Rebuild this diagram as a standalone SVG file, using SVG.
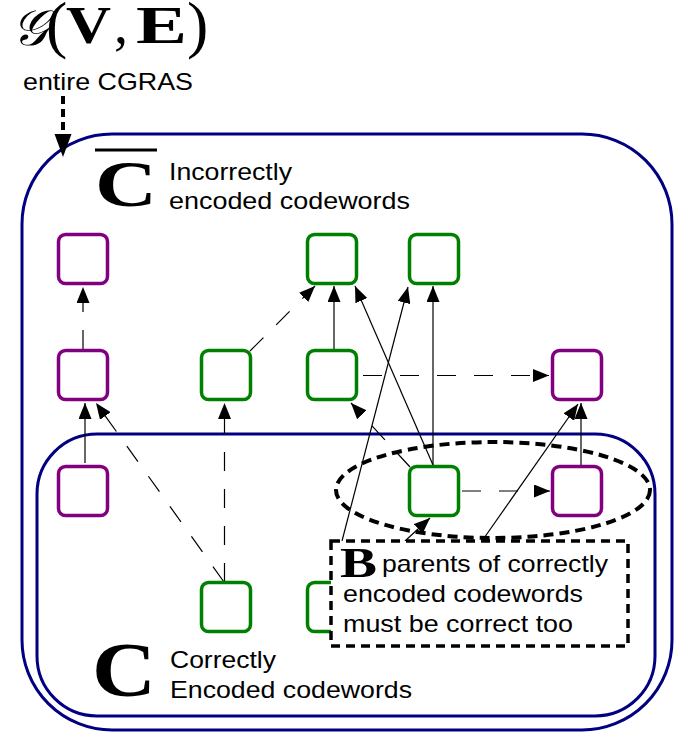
<svg xmlns="http://www.w3.org/2000/svg" width="690" height="739" viewBox="0 0 690 739">
<defs>
<style>
.sans{font-family:"Liberation Sans",Arial,sans-serif;font-size:24px;fill:#000}
.serifb{font-family:"Liberation Serif","Times New Roman",serif;font-weight:bold;fill:#000}
.serif{font-family:"Liberation Serif","Times New Roman",serif;fill:#000}
.set{fill:none;stroke:#000080;stroke-width:3}
.pn{fill:#fff;stroke:#800080;stroke-width:3.5}
.gn{fill:#fff;stroke:#008000;stroke-width:3.5}
.e{fill:none;stroke:#000;stroke-width:1.2}
.d{stroke-dasharray:19 18}
</style>
<marker id="ah" markerUnits="userSpaceOnUse" markerWidth="17" markerHeight="13" refX="16" refY="6.5" orient="auto">
<path d="M0,0 L16,6.5 L0,13 z" fill="#000"/>
</marker>
</defs>
<rect width="690" height="739" fill="#fff"/>

<g id="title">
<text x="12" y="45" font-family="'DejaVu Serif','DejaVu Sans',serif" font-size="50" font-style="italic">𝒢</text>
<text class="serif" x="46" y="46" font-size="64">(</text>
<text class="serifb" x="66" y="43" font-size="53" textLength="45" lengthAdjust="spacingAndGlyphs">V</text>
<text class="serif" x="114" y="43" font-size="56">,</text>
<text class="serifb" x="136" y="43" font-size="53" textLength="51" lengthAdjust="spacingAndGlyphs">E</text>
<text class="serif" x="187" y="46" font-size="64">)</text>
<text class="sans" x="23" y="90" textLength="170" lengthAdjust="spacingAndGlyphs">entire CGRAS</text>
</g>

<g id="setCbar">
<rect class="set" x="22" y="134" width="650" height="596" rx="90" ry="90"/>
<line x1="95" y1="150" x2="157" y2="150" stroke="#000" stroke-width="3"/>
<text class="serifb" x="95" y="206" font-size="66" textLength="62" lengthAdjust="spacingAndGlyphs">C</text>
<text class="sans" x="169" y="180" textLength="123" lengthAdjust="spacingAndGlyphs">Incorrectly</text>
<text class="sans" x="169" y="209" textLength="241" lengthAdjust="spacingAndGlyphs">encoded codewords</text>
</g>

<g id="setC">
<rect class="set" x="37" y="434" width="618" height="282" rx="60" ry="60"/>
<text class="serifb" x="92" y="696" font-size="78" textLength="64" lengthAdjust="spacingAndGlyphs">C</text>
<text class="sans" x="170" y="668" textLength="106" lengthAdjust="spacingAndGlyphs">Correctly</text>
<text class="sans" x="170" y="698" textLength="242" lengthAdjust="spacingAndGlyphs">Encoded codewords</text>
</g>

<g id="connectors">
<line x1="63" y1="96" x2="63" y2="137" stroke="#000" stroke-width="4" stroke-dasharray="8 5"/>
<path d="M54.5,134 L71.5,134 L63,157 z" fill="#000"/>
<line class="e d" x1="83" y1="349" x2="83" y2="287" marker-end="url(#ah)"/>
<line class="e" x1="85" y1="463" x2="85" y2="403" marker-end="url(#ah)"/>
<line class="e d" x1="224" y1="582" x2="96" y2="403" marker-end="url(#ah)"/>
<line class="e d" x1="224.5" y1="582" x2="224.5" y2="403" marker-end="url(#ah)"/>
<line class="e d" x1="250" y1="351" x2="315" y2="286" marker-end="url(#ah)"/>
<line class="e" x1="334" y1="349" x2="334" y2="286" marker-end="url(#ah)"/>
<line class="e d" x1="363" y1="375.5" x2="549" y2="375.5" marker-end="url(#ah)"/>
<line class="e d" x1="410" y1="467" x2="351" y2="403" marker-end="url(#ah)"/>
<line class="e" x1="433" y1="465" x2="355" y2="286" marker-end="url(#ah)"/>
<line class="e" x1="433" y1="465" x2="433" y2="286" marker-end="url(#ah)"/>
<line class="e" x1="342" y1="541" x2="408" y2="287" marker-end="url(#ah)"/>
<line class="e" x1="581" y1="465" x2="581" y2="403" marker-end="url(#ah)"/>
<line class="e" x1="482" y1="541" x2="578" y2="404" marker-end="url(#ah)"/>
<line class="e d" x1="462" y1="491" x2="550" y2="491" marker-end="url(#ah)"/>
<line class="e" x1="405" y1="541" x2="430" y2="518" marker-end="url(#ah)"/>
</g>

<g id="n1"><rect class="pn" x="58.5" y="234.5" width="49" height="49" rx="7"/></g>
<g id="n2"><rect class="pn" x="58.5" y="350.5" width="49" height="49" rx="7"/></g>
<g id="n3"><rect class="gn" x="201.5" y="350.5" width="49" height="49" rx="7"/></g>
<g id="n4"><rect class="gn" x="307.5" y="234.5" width="49" height="49" rx="7"/></g>
<g id="n5"><rect class="gn" x="307.5" y="350.5" width="49" height="49" rx="7"/></g>
<g id="n6"><rect class="gn" x="409.5" y="234.5" width="49" height="49" rx="7"/></g>
<g id="n7"><rect class="pn" x="552.5" y="350.5" width="49" height="49" rx="7"/></g>
<g id="n8"><rect class="gn" x="409.5" y="466.5" width="49" height="49" rx="7"/></g>
<g id="n9"><rect class="pn" x="552.5" y="466.5" width="49" height="49" rx="7"/></g>
<g id="n10"><rect class="pn" x="58.5" y="466.5" width="49" height="49" rx="7"/></g>
<g id="n11"><rect class="gn" x="201.5" y="582.5" width="49" height="49" rx="7"/></g>
<g id="n12"><rect class="gn" x="307.5" y="582.5" width="49" height="49" rx="7"/></g>

<g id="setB">
<ellipse cx="493" cy="490" rx="157" ry="48" fill="none" stroke="#000" stroke-width="4" stroke-dasharray="10 6"/>
<rect x="331" y="541" width="297" height="105" fill="#fff" stroke="#000" stroke-width="3.5" stroke-dasharray="9 6"/>
<text class="serifb" x="340" y="577" font-size="42" textLength="37" lengthAdjust="spacingAndGlyphs">B</text>
<text class="sans" x="382" y="572" textLength="226" lengthAdjust="spacingAndGlyphs">parents of correctly</text>
<text class="sans" x="343" y="602" textLength="240" lengthAdjust="spacingAndGlyphs">encoded codewords</text>
<text class="sans" x="343" y="632" textLength="230" lengthAdjust="spacingAndGlyphs">must be correct too</text>
</g>
</svg>
